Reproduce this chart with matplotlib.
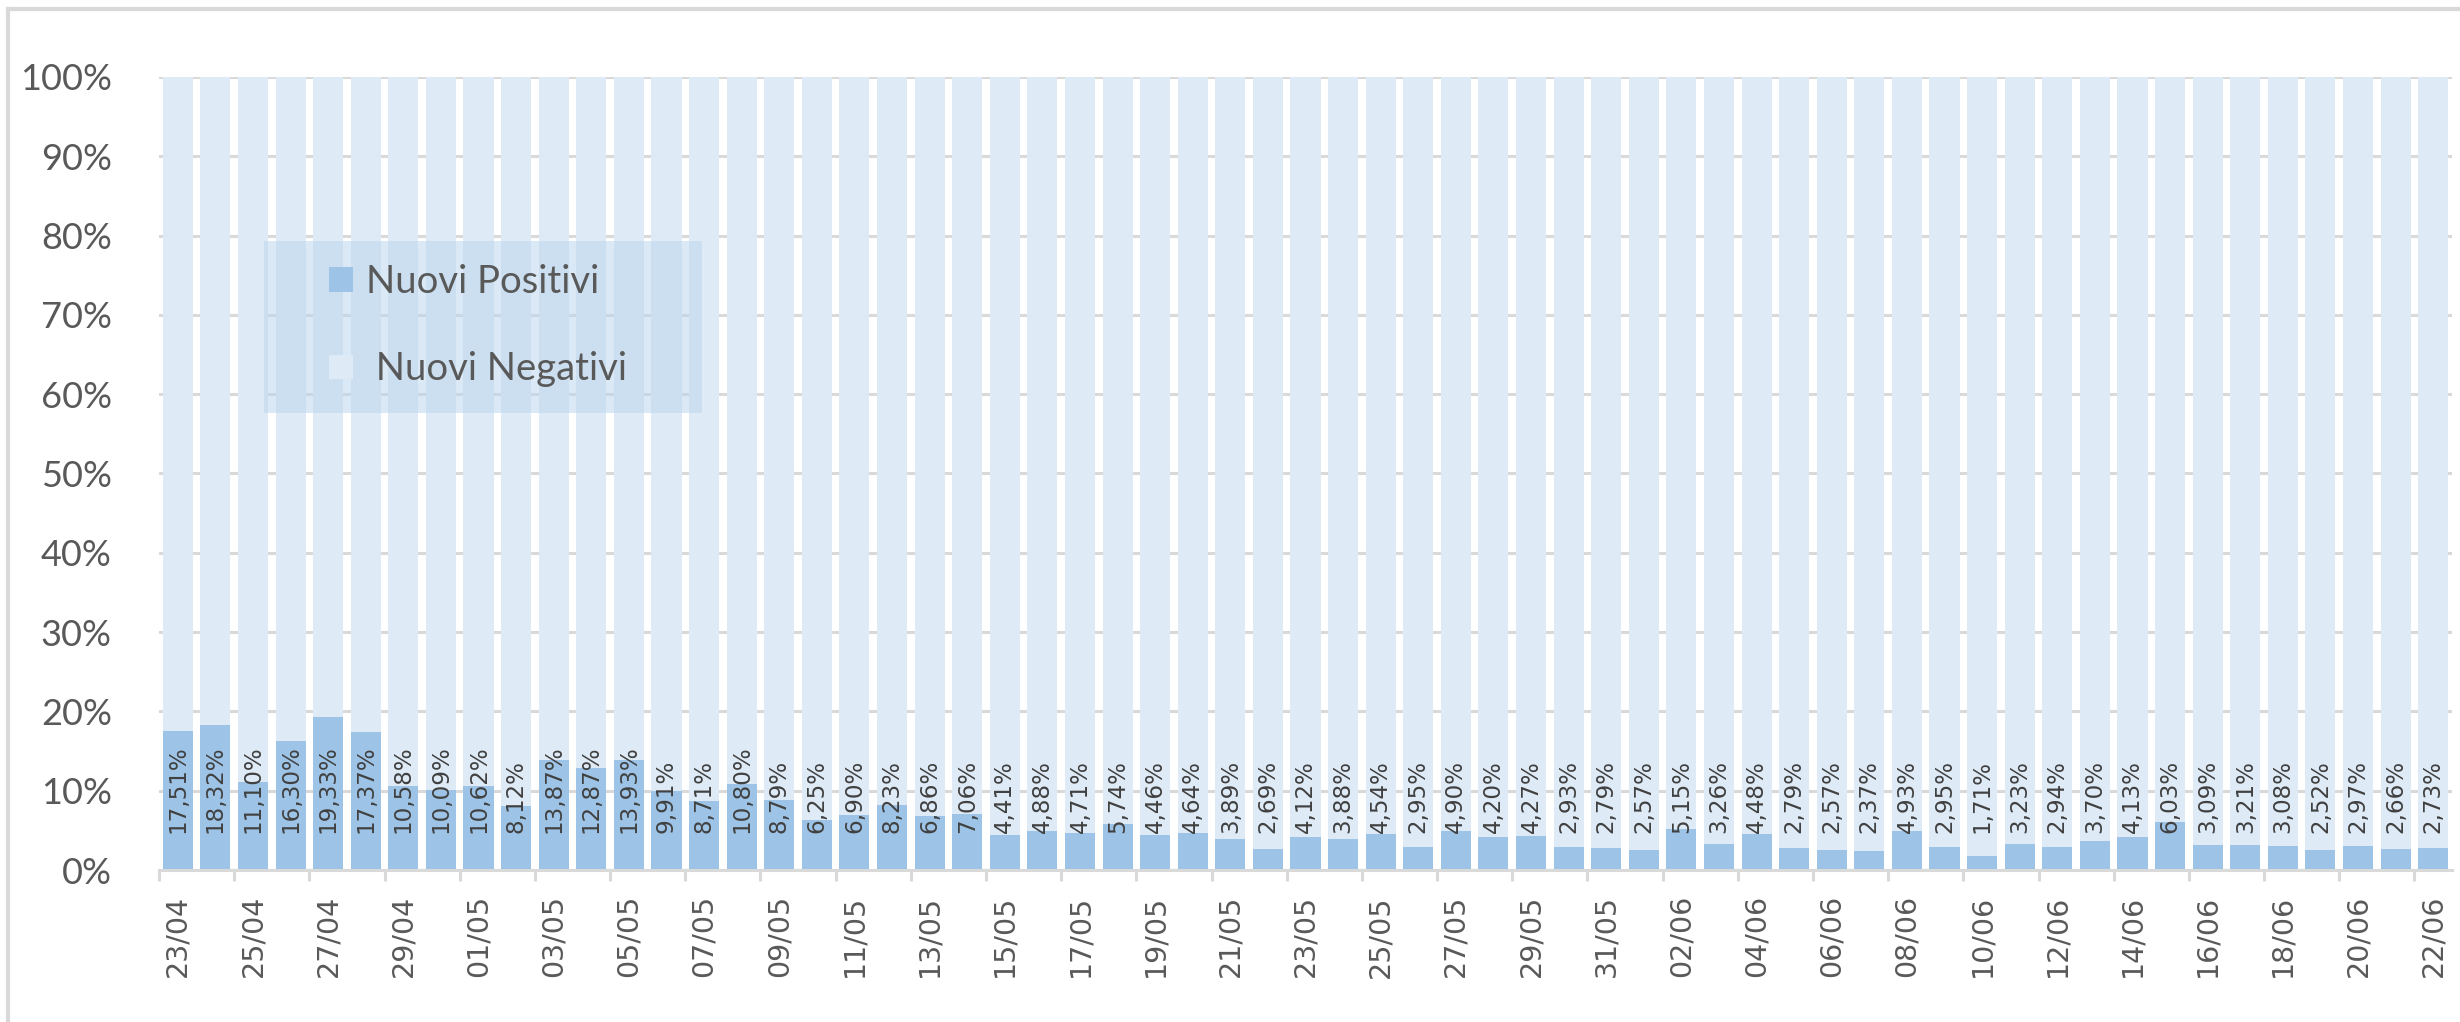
import matplotlib
matplotlib.use("Agg")
import matplotlib.pyplot as plt
from matplotlib.lines import Line2D
from matplotlib.patches import Rectangle, Patch

# dates 23/04 -> 22/06
days = ["23/04", "24/04", "25/04", "26/04", "27/04", "28/04", "29/04", "30/04",
        "01/05", "02/05", "03/05", "04/05", "05/05", "06/05", "07/05", "08/05",
        "09/05", "10/05", "11/05", "12/05", "13/05", "14/05", "15/05", "16/05",
        "17/05", "18/05", "19/05", "20/05", "21/05", "22/05", "23/05", "24/05",
        "25/05", "26/05", "27/05", "28/05", "29/05", "30/05", "31/05", "01/06",
        "02/06", "03/06", "04/06", "05/06", "06/06", "07/06", "08/06", "09/06",
        "10/06", "11/06", "12/06", "13/06", "14/06", "15/06", "16/06", "17/06",
        "18/06", "19/06", "20/06", "21/06", "22/06"]

positivi = [17.51, 18.32, 11.10, 16.30, 19.33, 17.37, 10.58, 10.09, 10.62, 8.12,
            13.87, 12.87, 13.93, 9.91, 8.71, 10.80, 8.79, 6.25, 6.90, 8.23,
            6.86, 7.06, 4.41, 4.88, 4.71, 5.74, 4.46, 4.64, 3.89, 2.69,
            4.12, 3.88, 4.54, 2.95, 4.90, 4.20, 4.27, 2.93, 2.79, 2.57,
            5.15, 3.26, 4.48, 2.79, 2.57, 2.37, 4.93, 2.95, 1.71, 3.23,
            2.94, 3.70, 4.13, 6.03, 3.09, 3.21, 3.08, 2.52, 2.97, 2.66, 2.73]
negativi = [100 - p for p in positivi]

c_pos = "#9DC3E6"
c_neg = "#DEEAF6"
grey_txt = "#595959"
grey_line = "#D9D9D9"

W, H = 2460, 1022
fig = plt.figure(figsize=(W / 100, H / 100), dpi=100)
ax = fig.add_axes([159 / W, 1 - 870 / H, (2452 - 159) / W, (870 - 77) / H])

x = list(range(len(days)))
ax.bar(x, positivi, width=0.8, color=c_pos, zorder=2)
ax.bar(x, negativi, width=0.8, bottom=positivi, color=c_neg, zorder=2)

for xi, p in zip(x, positivi):
    ax.annotate(("%.2f%%" % p).replace(".", ","), (xi, 0), xytext=(0, 26.5),
                textcoords="offset points", rotation=90, ha="center", va="bottom",
                fontsize=16.6, color="#404040", family="DejaVu Sans", zorder=3)

ax.set_xlim(-0.5, len(days) - 0.5)
ax.set_ylim(0, 100)

ax.set_yticks(range(0, 101, 10))
ax.set_yticklabels(["%d%%" % v for v in range(0, 101, 10)], family="Lato",
                   fontsize=26, color=grey_txt)
ax.tick_params(axis="y", length=0, pad=34)

ax.set_xticks(x[::2])
ax.set_xticklabels(days[::2], rotation=90, family="DejaVu Sans", fontsize=20.5,
                   color=grey_txt)
ax.set_xticks([i - 0.5 for i in range(0, len(days), 2)], minor=True)
ax.tick_params(axis="x", which="major", length=0, pad=18)
ax.tick_params(axis="x", which="minor", length=8, width=2.2, color=grey_line)

ax.yaxis.grid(True, color=grey_line, linewidth=2.2, zorder=0)
ax.set_axisbelow(True)
for s in ["left", "right", "top"]:
    ax.spines[s].set_visible(False)
ax.spines["bottom"].set_color(grey_line)
ax.spines["bottom"].set_linewidth(2.2)
ax.spines["bottom"].set_zorder(4)

# legend background box
ax.add_patch(Rectangle((0.0458, 0.576), 0.191, 0.217, transform=ax.transAxes,
                       facecolor="#BDD7EE", alpha=0.55, edgecolor="none", zorder=5))
handles = [Patch(facecolor=c_pos), Patch(facecolor=c_neg)]
leg = ax.legend(handles, ["Nuovi Positivi", " Nuovi Negativi"], loc="upper left",
                bbox_to_anchor=(0.0741, 0.764), borderaxespad=0, borderpad=0,
                frameon=False, handlelength=0.62, handleheight=0.62,
                handletextpad=0.35, labelspacing=1.34,
                prop={"family": "Lato", "size": 27.5})
leg.set_zorder(6)
for t in leg.get_texts():
    t.set_color(grey_txt)

# outer chart border (top and left only visible)
fig.add_artist(Line2D([8 / W, 8 / W], [0, 1 - 9 / H], color=grey_line, linewidth=3))
fig.add_artist(Line2D([8 / W, 1], [1 - 9 / H, 1 - 9 / H], color=grey_line, linewidth=3))

fig.savefig("out.png", dpi=100)
